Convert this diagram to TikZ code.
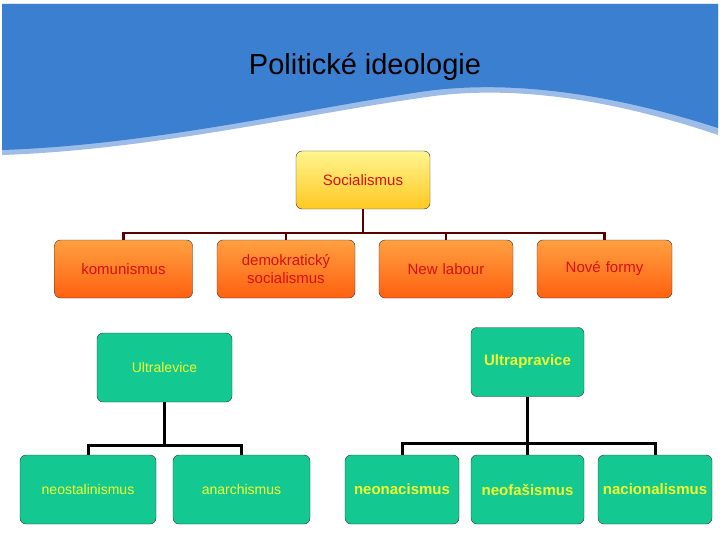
\documentclass[tikz,border=0pt]{standalone}
\usepackage{fontspec}
\setmainfont{Liberation Sans}
\definecolor{bannerblue}{HTML}{3A7FD0}
\definecolor{bannerlight}{HTML}{9DBDE8}
\definecolor{grfill}{HTML}{14C891}
\definecolor{txtred}{HTML}{D81010}
\definecolor{txtyel}{HTML}{F0FF30}
\definecolor{orTop}{HTML}{FFA040}
\definecolor{orBot}{HTML}{FF6010}
\definecolor{yeTop}{HTML}{FFF590}
\definecolor{yeBot}{HTML}{FFC820}
\begin{document}
\begin{tikzpicture}[x=1pt,y=-1pt,
  box/.style={draw=black!80, rounded corners=6pt, minimum height=58pt, text width=#1, align=center, inner sep=0pt},
  socbox/.style={box=134pt, top color=yeTop, bottom color=yeBot, text=txtred, font=\fontsize{15}{18}\selectfont},
  orbox/.style={box=138pt, top color=orTop, bottom color=orBot, text=txtred, font=\fontsize{15}{18}\selectfont},
  grbox/.style={box=#1, fill=grfill, minimum height=69pt, text=txtyel},
  thin/.style={font=\fontsize{14}{17}\selectfont},
  bold/.style={font=\fontsize{15}{18}\selectfont\bfseries},
  redline/.style={draw=red!35!black, line width=2.5pt},
  blkline/.style={draw=black, line width=3pt}]
\useasboundingbox (0,0) rectangle (720,540);
\fill[bannerlight] (2,4) -- (718,4) -- (718,135) .. controls (600,95) and (500,85) .. (420,98) .. controls (300,115) and (150,150) .. (2,155) -- cycle;
\fill[bannerblue] (2,4) -- (718,4) -- (718,128) .. controls (600,90) and (500,80) .. (420,92) .. controls (300,110) and (150,145) .. (2,150) -- cycle;
\node (title) at (365,67) {\fontsize{29}{34}\selectfont Politické ideologie};
\node[socbox] (soc) at (363,180) {Socialismus};
\node[orbox] (kom) at (123.5,269) {komunismus};
\node[orbox] (dem) at (286,269) {demokratický\\socialismus};
\node[orbox, text width=134pt] (nl) at (446,269) {New labour};
\node[orbox, text width=135pt] (nf) at (604.5,269) {Nové formy};
\node[grbox=135pt, thin] (ul) at (164.5,367.5) {Ultralevice};
\node[grbox=113pt, bold] (up) at (527.5,362) {Ultrapravice};
\node[grbox=136pt, thin] (neost) at (88,489.5) {neostalinismus};
\node[grbox=137pt, thin] (anar) at (241.5,489.5) {anarchismus};
\node[grbox=114pt, bold] (neon) at (402,489.5) {neonacismus};
\node[grbox=113pt, bold] (neof) at (527.5,489.5) {neofašismus};
\node[grbox=114pt, bold] (nac) at (655,489.5) {nacionalismus};
\draw[redline] (soc.south) -- (363,233);
\draw[redline] (kom.north) |- (363,233) -| (nf.north);
\draw[redline] (dem.north) -- (286,233);
\draw[redline] (nl.north) -- (446,233);
\draw[blkline] (ul.south) -- (164.5,445);
\draw[blkline] (neost.north) |- (164.5,445) -| (anar.north);
\draw[blkline] (up.south) -- (527.5,443);
\draw[blkline] (neon.north) |- (527.5,443) -| (nac.north);
\draw[blkline] (neof.north) -- (527.5,443);
\end{tikzpicture}
\end{document}
